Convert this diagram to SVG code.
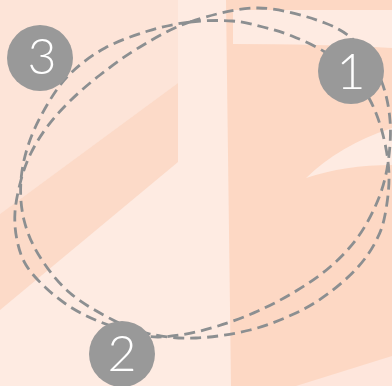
<svg xmlns="http://www.w3.org/2000/svg" width="392" height="386" viewBox="0 0 392 386">
  <style>
    .ring { fill: none; stroke: #8c8f91; stroke-width: 2.8; stroke-dasharray: 11 6; }
    .badge { fill: #999999; }
    .num { fill: #ffffff; font-family: Lato, "DejaVu Sans", sans-serif; font-weight: 300; font-size: 50px; text-anchor: middle; }
  </style>
  <g id="background">
    <rect x="0" y="0" width="392" height="386" fill="#feebe2"/>
    <polygon points="0,0 178,0 178,83 0,214" fill="#fde4d8"/>
    <polygon points="0,214 178,83 178,162 0,310" fill="#fcdac8"/>
    <polygon points="226,0 392,0 392,386 231,386" fill="#fdd8c4"/>
    <path d="M233,10 L392,10 L392,48 Q320,44 233,44 Z" fill="#feebe2"/>
    <path d="M306,178 Q340,145 392,128 L392,165 Q345,165 306,178 Z" fill="#feebe2"/>
    <polygon points="296,386 392,356 392,386" fill="#fee6dc"/>
  </g>
  <g id="connectors">
    <path class="ring" d="M190,22 C204,20.33 219.83,20.17 232,21 C244.17,21.83 253,24.5 263,27 C273,29.5 281.67,31.83 292,36 C302.33,40.17 315.33,46 325,52 C334.67,58 342.5,64 350,72 C357.5,80 364.5,89.5 370,100 C375.5,110.5 379.83,122.5 383,135 C386.17,147.5 388.67,161.67 389,175 C389.33,188.33 387.17,204 385,215 C382.83,226 380.5,232.33 376,241 C371.5,249.67 365.83,258.33 358,267 C350.17,275.67 339.33,285.33 329,293 C318.67,300.67 309.17,306.83 296,313 C282.83,319.17 266.67,325.83 250,330 C233.33,334.17 212.67,337.33 196,338 C179.33,338.67 163.83,337 150,334 C136.17,331 126.33,326.83 113,320 C99.67,313.17 82.17,303.5 70,293 C57.83,282.5 47.67,269.17 40,257 C32.33,244.83 27.17,232.83 24,220 C20.83,207.17 20,193.33 21,180 C22,166.67 25.17,153.33 30,140 C34.83,126.67 43,111.33 50,100 C57,88.67 62.83,80.67 72,72 C81.17,63.33 92.33,54.83 105,48 C117.67,41.17 133.83,35.33 148,31 C162.17,26.67 176,23.67 190,22 Z"/>
    <path class="ring" d="M190,22 C209.67,15.5 235.5,7.83 258,8 C280.5,8.17 308,16.67 325,23 C342,29.33 350.67,36.5 360,46 C369.33,55.5 376,67.67 381,80 C386,92.33 388.83,106.17 390,120 C391.17,133.83 390,149.67 388,163 C386,176.33 383,187.67 378,200 C373,212.33 366,225.83 358,237 C350,248.17 340.33,258 330,267 C319.67,276 308,283.67 296,291 C284,298.33 271,305.17 258,311 C245,316.83 231,322 218,326 C205,330 192.17,333.33 180,335 C167.83,336.67 157.83,338 145,336 C132.17,334 115.17,327.67 103,323 C90.83,318.33 81.5,313.83 72,308 C62.5,302.17 53.67,295.17 46,288 C38.33,280.83 30.83,273 26,265 C21.17,257 18.83,248.83 17,240 C15.17,231.17 14.33,222 15,212 C15.67,202 18.33,189.83 21,180 C23.67,170.17 26.67,161.83 31,153 C35.33,144.17 40.67,135.5 47,127 C53.33,118.5 60.17,110.67 69,102 C77.83,93.33 88.17,84.17 100,75 C111.83,65.83 125,55.83 140,47 C155,38.17 170.33,28.5 190,22 Z"/>
  </g>
  <g id="node-1">
    <circle class="badge" cx="351" cy="71" r="33"/>
    <text class="num" x="351" y="89">1</text>
  </g>
  <g id="node-2">
    <circle class="badge" cx="122" cy="354" r="33"/>
    <text class="num" x="122" y="371">2</text>
  </g>
  <g id="node-3">
    <circle class="badge" cx="40" cy="58" r="33"/>
    <text class="num" x="42" y="74">3</text>
  </g>
</svg>
